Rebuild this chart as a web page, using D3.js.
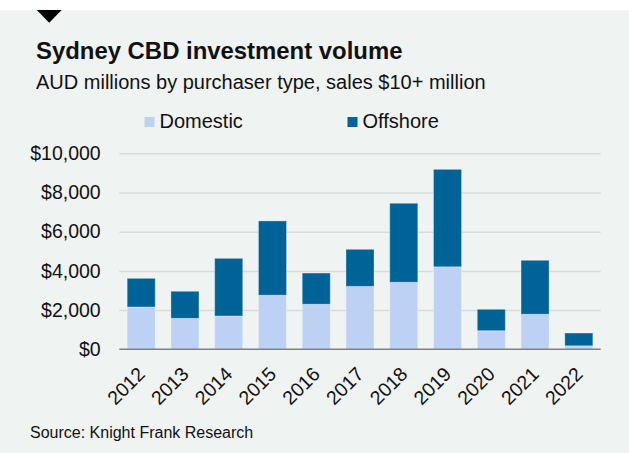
<!DOCTYPE html>
<html>
<head>
<meta charset="utf-8">
<script src="https://cdn.jsdelivr.net/npm/d3@7/dist/d3.min.js"></script>
<style>
  html, body { margin: 0; padding: 0; background: #ffffff; }
  svg { display: block; font-family: "Liberation Sans", Arial, sans-serif; }
</style>
</head>
<body>
<svg id="chart" width="629" height="453"></svg>
<script>
// Sydney CBD investment volume, AUD millions, by purchaser type
const years = ["2012", "2013", "2014", "2015", "2016", "2017", "2018", "2019", "2020", "2021", "2022"];
const domestic = [2160, 1580, 1700, 2760, 2300, 3210, 3420, 4210, 950, 1790, 180];
const offshore = [1460, 1380, 2940, 3790, 1590, 1890, 4030, 4970, 1090, 2750, 650];
const seriesNames = ["Domestic", "Offshore"];
const seriesColors = ["#bdd1f5", "#006398"];
const yTicks = [0, 2000, 4000, 6000, 8000, 10000];

const svg = d3.select("#chart");
const W = 629, H = 453;

// panel background below a thin white strip
svg.append("rect").attr("x", 0).attr("y", 10).attr("width", W).attr("height", H - 10).attr("fill", "#eff3f2");

// marker triangle
svg.append("path")
  .attr("d", "M36.7,10 L61.7,10 L49.2,22.7 Z")
  .attr("fill", "#000");

svg.append("text")
  .attr("x", 36).attr("y", 59.3)
  .attr("font-size", 23.9).attr("font-weight", "bold").attr("fill", "#111")
  .text("Sydney CBD investment volume");

svg.append("text")
  .attr("x", 36).attr("y", 89.3)
  .attr("font-size", 20).attr("fill", "#111")
  .text("AUD millions by purchaser type, sales $10+ million");

// legend
const legendX = [144.5, 347.5];
seriesNames.forEach((name, i) => {
  svg.append("rect").attr("x", legendX[i]).attr("y", 117).attr("width", 10).attr("height", 10)
    .attr("fill", seriesColors[i]);
  svg.append("text").attr("x", legendX[i] + 15).attr("y", 127.7)
    .attr("font-size", 20).attr("fill", "#111").text(name);
});

const plotLeft = 119.3, plotRight = 600.7, plotTop = 153.3, plotBottom = 349.3;

const x = d3.scaleBand().domain(years).range([plotLeft, plotRight]).paddingInner(0.36).paddingOuter(0.18);
const y = d3.scaleLinear().domain([0, 10000]).range([plotBottom, plotTop]);

// gridlines + y labels
const yAxis = d3.axisLeft(y).tickValues(yTicks).tickFormat(d3.format("$,")).tickSize(0).tickPadding(18.6);
const gy = svg.append("g").attr("transform", `translate(${plotLeft},0)`).call(yAxis);
gy.select(".domain").remove();
gy.selectAll("text").attr("font-size", 19.5).attr("fill", "#111").attr("font-family", "Liberation Sans, Arial, sans-serif");
gy.selectAll(".tick").filter(d => d !== 0).append("line")
  .attr("x1", 0).attr("x2", plotRight - plotLeft).attr("stroke", "#dadcdc").attr("stroke-width", 1.5);

// stacked bars
const table = years.map((yr, i) => ({ year: yr, Domestic: domestic[i], Offshore: offshore[i] }));
const stacked = d3.stack().keys(seriesNames)(table);

svg.append("g").selectAll("g").data(stacked).join("g")
  .attr("fill", (d, i) => seriesColors[i])
  .selectAll("rect").data(d => d).join("rect")
  .attr("x", d => x(d.data.year))
  .attr("y", d => y(d[1]))
  .attr("width", x.bandwidth())
  .attr("height", d => y(d[0]) - y(d[1]))
  .attr("stroke", "rgba(255,255,255,0.3)")
  .attr("stroke-width", 1);

// x axis baseline
svg.append("line").attr("x1", plotLeft).attr("x2", plotRight).attr("y1", y(0)).attr("y2", y(0))
  .attr("stroke", "#7f8283").attr("stroke-width", 1.5);

// rotated year labels
const xAxis = d3.axisBottom(x).tickSize(0).tickPadding(0);
const gx = svg.append("g").attr("transform", `translate(0,${plotBottom})`).call(xAxis);
gx.select(".domain").remove();
gx.selectAll("text")
  .attr("font-size", 19.5).attr("fill", "#111").attr("font-family", "Liberation Sans, Arial, sans-serif")
  .attr("text-anchor", "end").attr("dy", 0).attr("y", 0)
  .attr("transform", "translate(5,26) rotate(-45)");

svg.append("text")
  .attr("x", 30).attr("y", 438.3)
  .attr("font-size", 16).attr("fill", "#111")
  .text("Source: Knight Frank Research");
</script>
</body>
</html>
